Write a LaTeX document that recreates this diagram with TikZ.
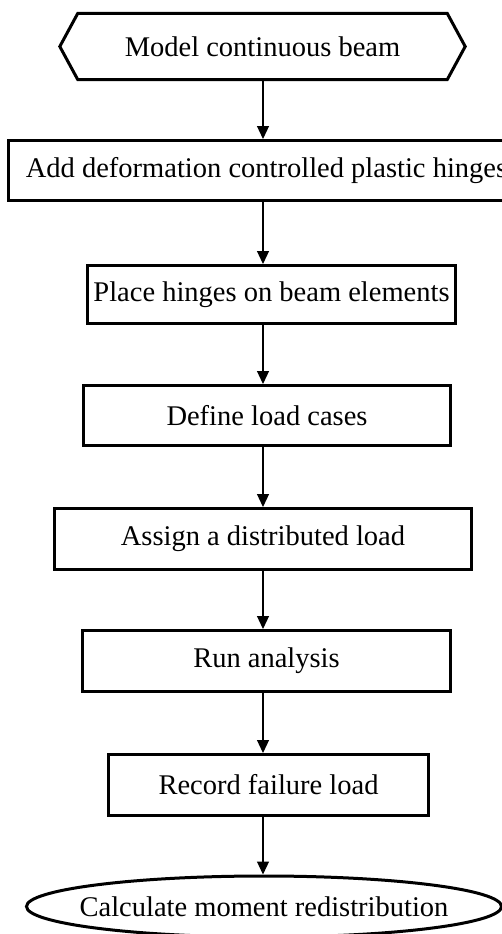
\documentclass[tikz,border=0pt]{standalone}
\usepackage{fontspec}
\setmainfont{Liberation Serif}
\usetikzlibrary{arrows.meta,shapes.geometric}
\begin{document}
\begin{tikzpicture}[x=1pt,y=-1pt,
  txt/.style={font=\fontsize{28.5}{34}\selectfont},
  stepbox/.style={txt,draw,rectangle,line width=3pt,inner sep=0pt},
  flow/.style={draw,line width=1.2pt,-{Triangle[width=12pt,length=13pt]}}]
\useasboundingbox (0,0) rectangle (501,934);

% start block (hexagon)
\node[txt,inner sep=0pt,minimum width=369,minimum height=66] (start) at (262.5,46.5) {Model continuous beam};
\draw[line width=3pt,line join=miter]
  (start.north west) -- (start.north east) -- ([xshift=18pt]start.east)
  -- (start.south east) -- (start.south west) -- ([xshift=-18pt]start.west) -- cycle;

% process steps
\node[stepbox,minimum width=517,minimum height=60] (hinges) at (266.5,170.5) {Add deformation controlled plastic hinges};
\node[stepbox,minimum width=368,minimum height=58] (place) at (271.5,294.5) {Place hinges on beam elements};
\node[stepbox,minimum width=367,minimum height=60] (cases) at (267,415.5) {Define load cases};
\node[stepbox,minimum width=417,minimum height=61] (load) at (263,539) {Assign a distributed load};
\node[stepbox,minimum width=368,minimum height=61] (run) at (266.5,661) {Run analysis};
\node[stepbox,minimum width=320,minimum height=61] (fail) at (268.5,785) {Record failure load};

% end block: zero-width text box so the ellipse keeps its set size
\node[txt,draw,ellipse,line width=3pt,inner sep=0pt,minimum width=475,minimum height=61] (calc) at (264,906.5) {\makebox[0pt]{Calculate moment redistribution}};

% connectors along one vertical axis
\coordinate (ax) at (263,0);
\draw[flow] (start.south -| ax) -- (hinges.north -| ax);
\draw[flow] (hinges.south -| ax) -- (place.north -| ax);
\draw[flow] (place.south -| ax) -- (cases.north -| ax);
\draw[flow] (cases.south -| ax) -- (load.north -| ax);
\draw[flow] (load.south -| ax) -- (run.north -| ax);
\draw[flow] (run.south -| ax) -- (fail.north -| ax);
\draw[flow] (fail.south -| ax) -- (calc.north -| ax);
\end{tikzpicture}
\end{document}
